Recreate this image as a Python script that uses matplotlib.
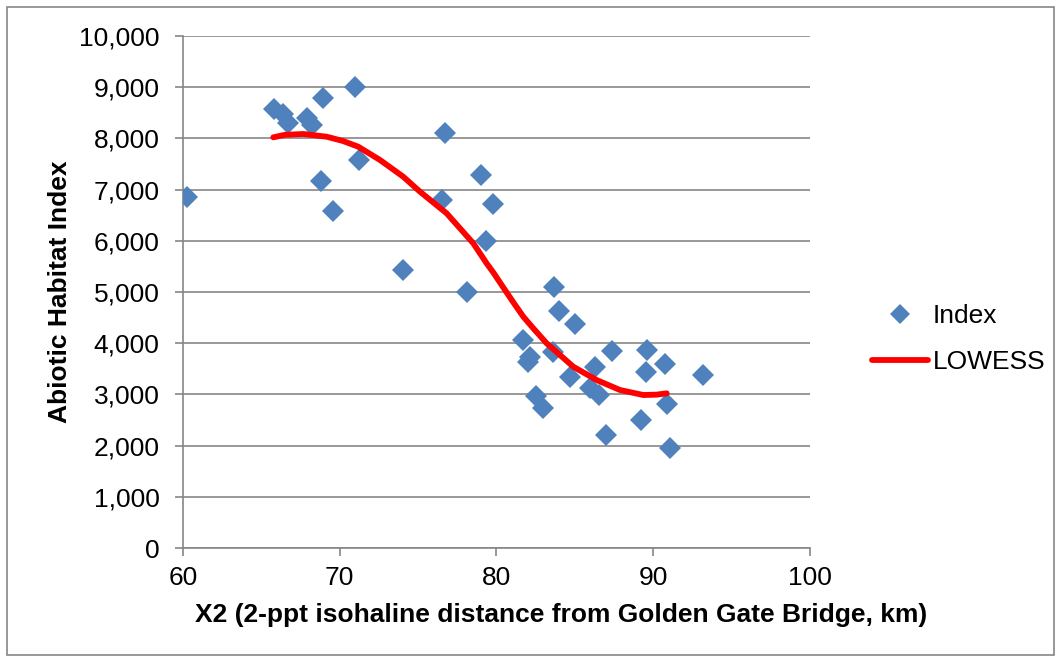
import matplotlib.pyplot as plt
import matplotlib.patches as patches
from matplotlib.ticker import FuncFormatter

plt.rcParams["font.family"] = ["Liberation Sans", "DejaVu Sans"]

# scatter data: X2 (km) vs Abiotic Habitat Index
x2_km = [60.28, 65.81, 66.40, 66.72, 67.93, 68.21, 68.95, 70.99, 71.25, 68.78,
         69.55, 74.02, 76.71, 78.99, 76.52, 79.80, 79.33, 78.14, 81.71, 82.14,
         82.03, 83.62, 83.67, 83.99, 85.01, 84.69, 86.28, 87.35, 85.97, 86.56,
         82.50, 82.99, 89.58, 90.75, 89.54, 93.15, 90.86, 89.22, 86.99, 91.07]
habitat_index = [6860, 8565, 8475, 8310, 8390, 8260, 8785, 8995, 7575, 7170,
                 6590, 5425, 8100, 7285, 6805, 6712, 5996, 4995, 4065, 3736,
                 3639, 3822, 5100, 4620, 4369, 3346, 3541, 3854, 3119, 2988,
                 2975, 2740, 3867, 3588, 3432, 3379, 2813, 2500, 2207, 1947]

# LOWESS fit
lowess_x = [65.76, 66.5, 67.67, 69.17, 70.2, 71.18, 72.57, 74.05, 75.12, 76.82,
            78.52, 79.37, 79.8, 80.65, 81.07, 81.71, 82.35, 83.2, 84.9, 86.39,
            87.88, 89.37, 90.2, 90.86]
lowess_y = [8021, 8070, 8086, 8033, 7950, 7838, 7578, 7252, 6959, 6537,
            5951, 5560, 5380, 4990, 4800, 4518, 4290, 3998, 3541, 3281,
            3086, 2988, 2995, 3021]

x_ticks = [60, 70, 80, 90, 100]
y_ticks = list(range(0, 10001, 1000))

fig = plt.figure(figsize=(10.61, 6.62), dpi=100)
ax = fig.add_axes([0.1725, 0.1722, 0.5909, 0.7734])

# outer chart border
fig.patches.append(patches.Rectangle((7 / 1061, 7 / 662), 1047 / 1061, 648 / 662,
                                     transform=fig.transFigure, fill=False,
                                     edgecolor="#868686", linewidth=1.2))

ax.plot(x2_km, habitat_index, "D", color="#4F81BD", markersize=11,
        markeredgewidth=0, label="Index", zorder=3)
ax.plot(lowess_x, lowess_y, "-", color="#FF0000", linewidth=4.2,
        solid_capstyle="round", solid_joinstyle="round", label="LOWESS", zorder=4)

ax.set_xlim(60, 100)
ax.set_ylim(0, 10000)
ax.set_xticks(x_ticks)
ax.set_yticks(y_ticks)
ax.yaxis.set_major_formatter(FuncFormatter(lambda v, p: f"{int(v):,}"))
ax.grid(axis="y", color="#868686", linewidth=1.2)
ax.set_axisbelow(True)

for side in ["top", "right"]:
    ax.spines[side].set_visible(False)
for side in ["left", "bottom"]:
    ax.spines[side].set_color("#868686")
    ax.spines[side].set_linewidth(1.2)

ax.tick_params(axis="both", direction="out", length=6, width=1.2,
               color="#868686", labelsize=19, labelcolor="black")
ax.tick_params(axis="y", pad=11)
ax.tick_params(axis="x", pad=7)

ax.set_xlabel("X2 (2-ppt isohaline distance from Golden Gate Bridge, km)",
              fontsize=19, fontweight="bold", labelpad=9)
ax.xaxis.label.set_x(0.603)
ax.set_ylabel("Abiotic Habitat Index", fontsize=19, fontweight="bold", labelpad=5)

ax.legend(loc="center left", bbox_to_anchor=(859 / 1061, 1 - 339 / 662),
          bbox_transform=fig.transFigure, frameon=False, borderpad=0,
          fontsize=19, handlelength=2.1, handletextpad=0.2, labelspacing=0.85,
          markerscale=0.9)

fig.savefig("out.png", dpi=100)
